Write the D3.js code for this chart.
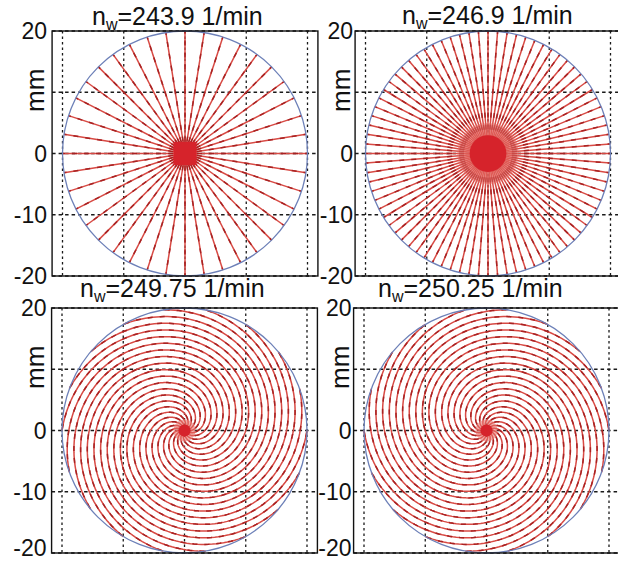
<!DOCTYPE html>
<html>
<head>
<meta charset="utf-8">
<script src="https://cdn.jsdelivr.net/npm/d3@7"></script>
<style>
    body { margin: 0; background: #fff; }
    text { font-family: "Liberation Sans", Arial, sans-serif; fill: #111; }
</style>
</head>
<body>
<svg id="chart" width="618" height="562"></svg>
<script>
// workpiece speeds shown in the panel titles
const speeds = ['243.9', '246.9', '249.75', '250.25'];

// y tick labels (10 is covered by the "mm" label)
const yTickLabels = [20, 0, -10, -20];
const gridValues = [-20, -10, 0, 10, 20];

// straight trajectories, angle of each spoke in degrees
const spokes1 = [0, 9, 18, 27, 36, 45, 54, 63, 72, 81, 90, 99, 108, 117, 126, 135, 144, 153, 162, 171,
    180, 189, 198, 207, 216, 225, 234, 243, 252, 261, 270, 279, 288, 297, 306, 315, 324, 333, 342, 351];
const spokes2 = [0, 4.5, 9, 13.5, 18, 22.5, 27, 31.5, 36, 40.5, 45, 49.5, 54, 58.5, 63, 67.5, 72, 76.5, 81, 85.5,
    90, 94.5, 99, 103.5, 108, 112.5, 117, 121.5, 126, 130.5, 135, 139.5, 144, 148.5, 153, 157.5, 162, 166.5, 171, 175.5,
    180, 184.5, 189, 193.5, 198, 202.5, 207, 211.5, 216, 220.5, 225, 229.5, 234, 238.5, 243, 247.5, 252, 256.5, 261, 265.5,
    270, 274.5, 279, 283.5, 288, 292.5, 297, 301.5, 306, 310.5, 315, 319.5, 324, 328.5, 333, 337.5, 342, 346.5, 351, 355.5];

// spiral trajectories: start angle of each arm (deg) and turns over the full radius
const armStarts = [0, 20, 40, 60, 80, 100, 120, 140, 160, 180, 200, 220, 240, 260, 280, 300, 320, 340];
const armTurns = [0, 0, 1, -1];

// dense spot in the centre, radius in mm
const blobRadius = [1.9, 3.0, 1.0, 1.0];
const haloRadius = [0, 5.0, 1.8, 1.8];

const workRadius = 20;

// panel placement (pixels)
const panels = [
    { cx: 185, top: 31, bottom: 276, titleX: 92, titleY: 25, labelShift: 0, lastLift: 0 },
    { cx: 488, top: 31, bottom: 276, titleX: 402, titleY: 24, labelShift: 3, lastLift: 0 },
    { cx: 184.5, top: 308, bottom: 553, titleX: 80, titleY: 297, labelShift: 0, lastLift: 5 },
    { cx: 486.5, top: 308, bottom: 553, titleX: 378, titleY: 297, labelShift: 3, lastLift: 5 }
];

const svg = d3.select('#chart');
const rad = Math.PI / 180;

panels.forEach((p, i) => {
    const pxPerMm = (p.bottom - p.top) / 40;
    const x = d3.scaleLinear().domain([-20, 20]).range([p.cx - 20 * pxPerMm, p.cx + 20 * pxPerMm]);
    const y = d3.scaleLinear().domain([-20, 20]).range([p.bottom, p.top]);
    const xlim = [-21.7, 21.7];

    const g = svg.append('g').attr('class', 'panel');

    // white plot area
    g.append('rect')
        .attr('x', x(xlim[0])).attr('y', p.top)
        .attr('width', x(xlim[1]) - x(xlim[0])).attr('height', p.bottom - p.top)
        .attr('fill', '#fff');

    // dotted grid
    g.selectAll('.gx').data(gridValues).enter().append('line')
        .attr('x1', d => x(d)).attr('x2', d => x(d))
        .attr('y1', p.top).attr('y2', p.bottom)
        .attr('stroke', '#1a1a1a').attr('stroke-width', 1.3)
        .attr('stroke-dasharray', '2.5,3');
    g.selectAll('.gy').data(gridValues).enter().append('line')
        .attr('x1', x(xlim[0])).attr('x2', x(xlim[1]))
        .attr('y1', d => y(d)).attr('y2', d => y(d))
        .attr('stroke', '#1a1a1a').attr('stroke-width', 1.3)
        .attr('stroke-dasharray', '3.5,3');

    // trajectories
    const paths = [];
    const line = d3.line().x(d => x(d[0])).y(d => y(d[1]));
    if (armTurns[i] === 0) {
        const spokes = i === 0 ? spokes1 : spokes2;
        spokes.forEach(a => {
            paths.push([[0, 0], [workRadius * Math.cos(a * rad), workRadius * Math.sin(a * rad)]]);
        });
    } else {
        const rs = d3.range(0, workRadius + 0.001, 0.1);
        armStarts.forEach(a => {
            paths.push(rs.map(r => {
                const t = a * rad + armTurns[i] * 2 * Math.PI * r / workRadius;
                return [r * Math.cos(t), r * Math.sin(t)];
            }));
        });
    }

    const traj = g.append('g');
    traj.selectAll('.base').data(paths).enter().append('path')
        .attr('d', line)
        .attr('fill', 'none')
        .attr('stroke', '#d84a44')
        .attr('stroke-width', 1.5);
    traj.selectAll('.dash').data(paths).enter().append('path')
        .attr('d', line)
        .attr('fill', 'none')
        .attr('stroke', '#a82222')
        .attr('stroke-width', 1.5)
        .attr('stroke-dasharray', '5,7');

    // centre spot
    if (haloRadius[i] > 0) {
        g.append('circle')
            .attr('cx', x(0)).attr('cy', y(0))
            .attr('r', x(haloRadius[i]) - x(0))
            .attr('fill', '#e46a64').attr('opacity', 0.55);
    }
    if (i === 0) {
        g.append('rect')
            .attr('x', x(-blobRadius[i])).attr('y', y(blobRadius[i]))
            .attr('width', x(blobRadius[i]) - x(-blobRadius[i]))
            .attr('height', y(-blobRadius[i]) - y(blobRadius[i]))
            .attr('fill', '#d6232b');
    } else {
        g.append('circle')
            .attr('cx', x(0)).attr('cy', y(0))
            .attr('r', x(blobRadius[i]) - x(0))
            .attr('fill', '#d6232b');
    }

    // workpiece edge
    g.append('circle')
        .attr('cx', x(0)).attr('cy', y(0))
        .attr('r', x(workRadius) - x(0))
        .attr('fill', 'none')
        .attr('stroke', '#6d80b8')
        .attr('stroke-width', 1.3);

    // axes box
    g.append('rect')
        .attr('x', x(xlim[0])).attr('y', p.top)
        .attr('width', x(xlim[1]) - x(xlim[0])).attr('height', p.bottom - p.top)
        .attr('fill', 'none')
        .attr('stroke', '#111')
        .attr('stroke-width', 1.4);

    // y tick labels (bottom row's -20 sits a little higher, at the image edge)
    g.selectAll('.yl').data(yTickLabels).enter().append('text')
        .attr('x', x(xlim[0]) - 5 + p.labelShift)
        .attr('y', d => y(d) - (d === -20 ? p.lastLift : 0))
        .attr('dy', '0.36em')
        .attr('text-anchor', 'end')
        .attr('font-size', 23)
        .text(d => d);

    // y axis label
    g.append('text')
        .attr('transform', `translate(${x(xlim[0]) - 8 + p.labelShift},${y(10) - 2}) rotate(-90)`)
        .attr('text-anchor', 'middle')
        .attr('font-size', 26)
        .text('mm');

    // title
    const title = g.append('text')
        .attr('x', p.titleX)
        .attr('y', p.titleY)
        .attr('font-size', 25);
    title.append('tspan').text('n');
    title.append('tspan').attr('dy', 5).attr('font-size', 16).text('w');
    title.append('tspan').attr('dy', -5).text(`=${speeds[i]} 1/min`);
});
</script>
</body>
</html>
